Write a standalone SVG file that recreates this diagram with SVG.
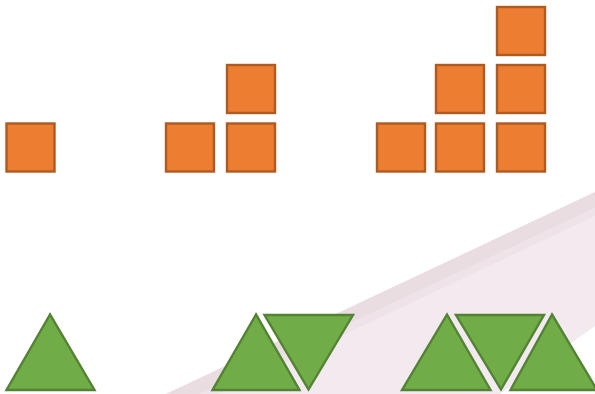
<svg xmlns="http://www.w3.org/2000/svg" width="595" height="394" viewBox="0 0 595 394">
  <defs>
    <style>
      .sq { fill: #ED7D31; stroke: #AE5A21; stroke-width: 2.4; }
      .tri { fill: #70AD47; stroke: #548235; stroke-width: 2.4; stroke-linejoin: miter; }
    </style>
  </defs>
  <rect x="0" y="0" width="595" height="394" fill="#ffffff"/>
  <g id="background-band">
    <polygon points="166,394 595,192 595,326 500,394" fill="#f3eaef"/>
    <polygon points="166,394 595,192 595,208 200,394" fill="#e9dde2"/>
    <polygon points="200,394 595,208 595,216 218,394" fill="#eee3e8"/>
  </g>
  <g id="squares-1">
    <rect class="sq" x="6.5" y="123.5" width="48" height="48"/>
  </g>
  <g id="squares-2">
    <rect class="sq" x="166" y="123.5" width="48" height="48"/>
    <rect class="sq" x="227" y="123.5" width="48" height="48"/>
    <rect class="sq" x="227" y="65" width="48" height="48"/>
  </g>
  <g id="squares-3">
    <rect class="sq" x="377" y="123.5" width="48" height="48"/>
    <rect class="sq" x="436" y="123.5" width="48" height="48"/>
    <rect class="sq" x="436" y="65" width="48" height="48"/>
    <rect class="sq" x="497" y="123.5" width="48" height="48"/>
    <rect class="sq" x="497" y="65" width="48" height="48"/>
    <rect class="sq" x="497" y="7" width="48" height="48"/>
  </g>
  <g id="triangles-1">
    <polygon class="tri" points="50,314.5 6.5,390 94.5,390"/>
  </g>
  <g id="triangles-2">
    <polygon class="tri" points="256,314.5 212.5,390 299.5,390"/>
    <polygon class="tri" points="264.5,315 353,315 308.5,389.5"/>
  </g>
  <g id="triangles-3">
    <polygon class="tri" points="447,314.5 402,390 490.5,390"/>
    <polygon class="tri" points="456,315 544,315 501,389.5"/>
    <polygon class="tri" points="552,314.5 510.5,390 597,390"/>
  </g>
</svg>
